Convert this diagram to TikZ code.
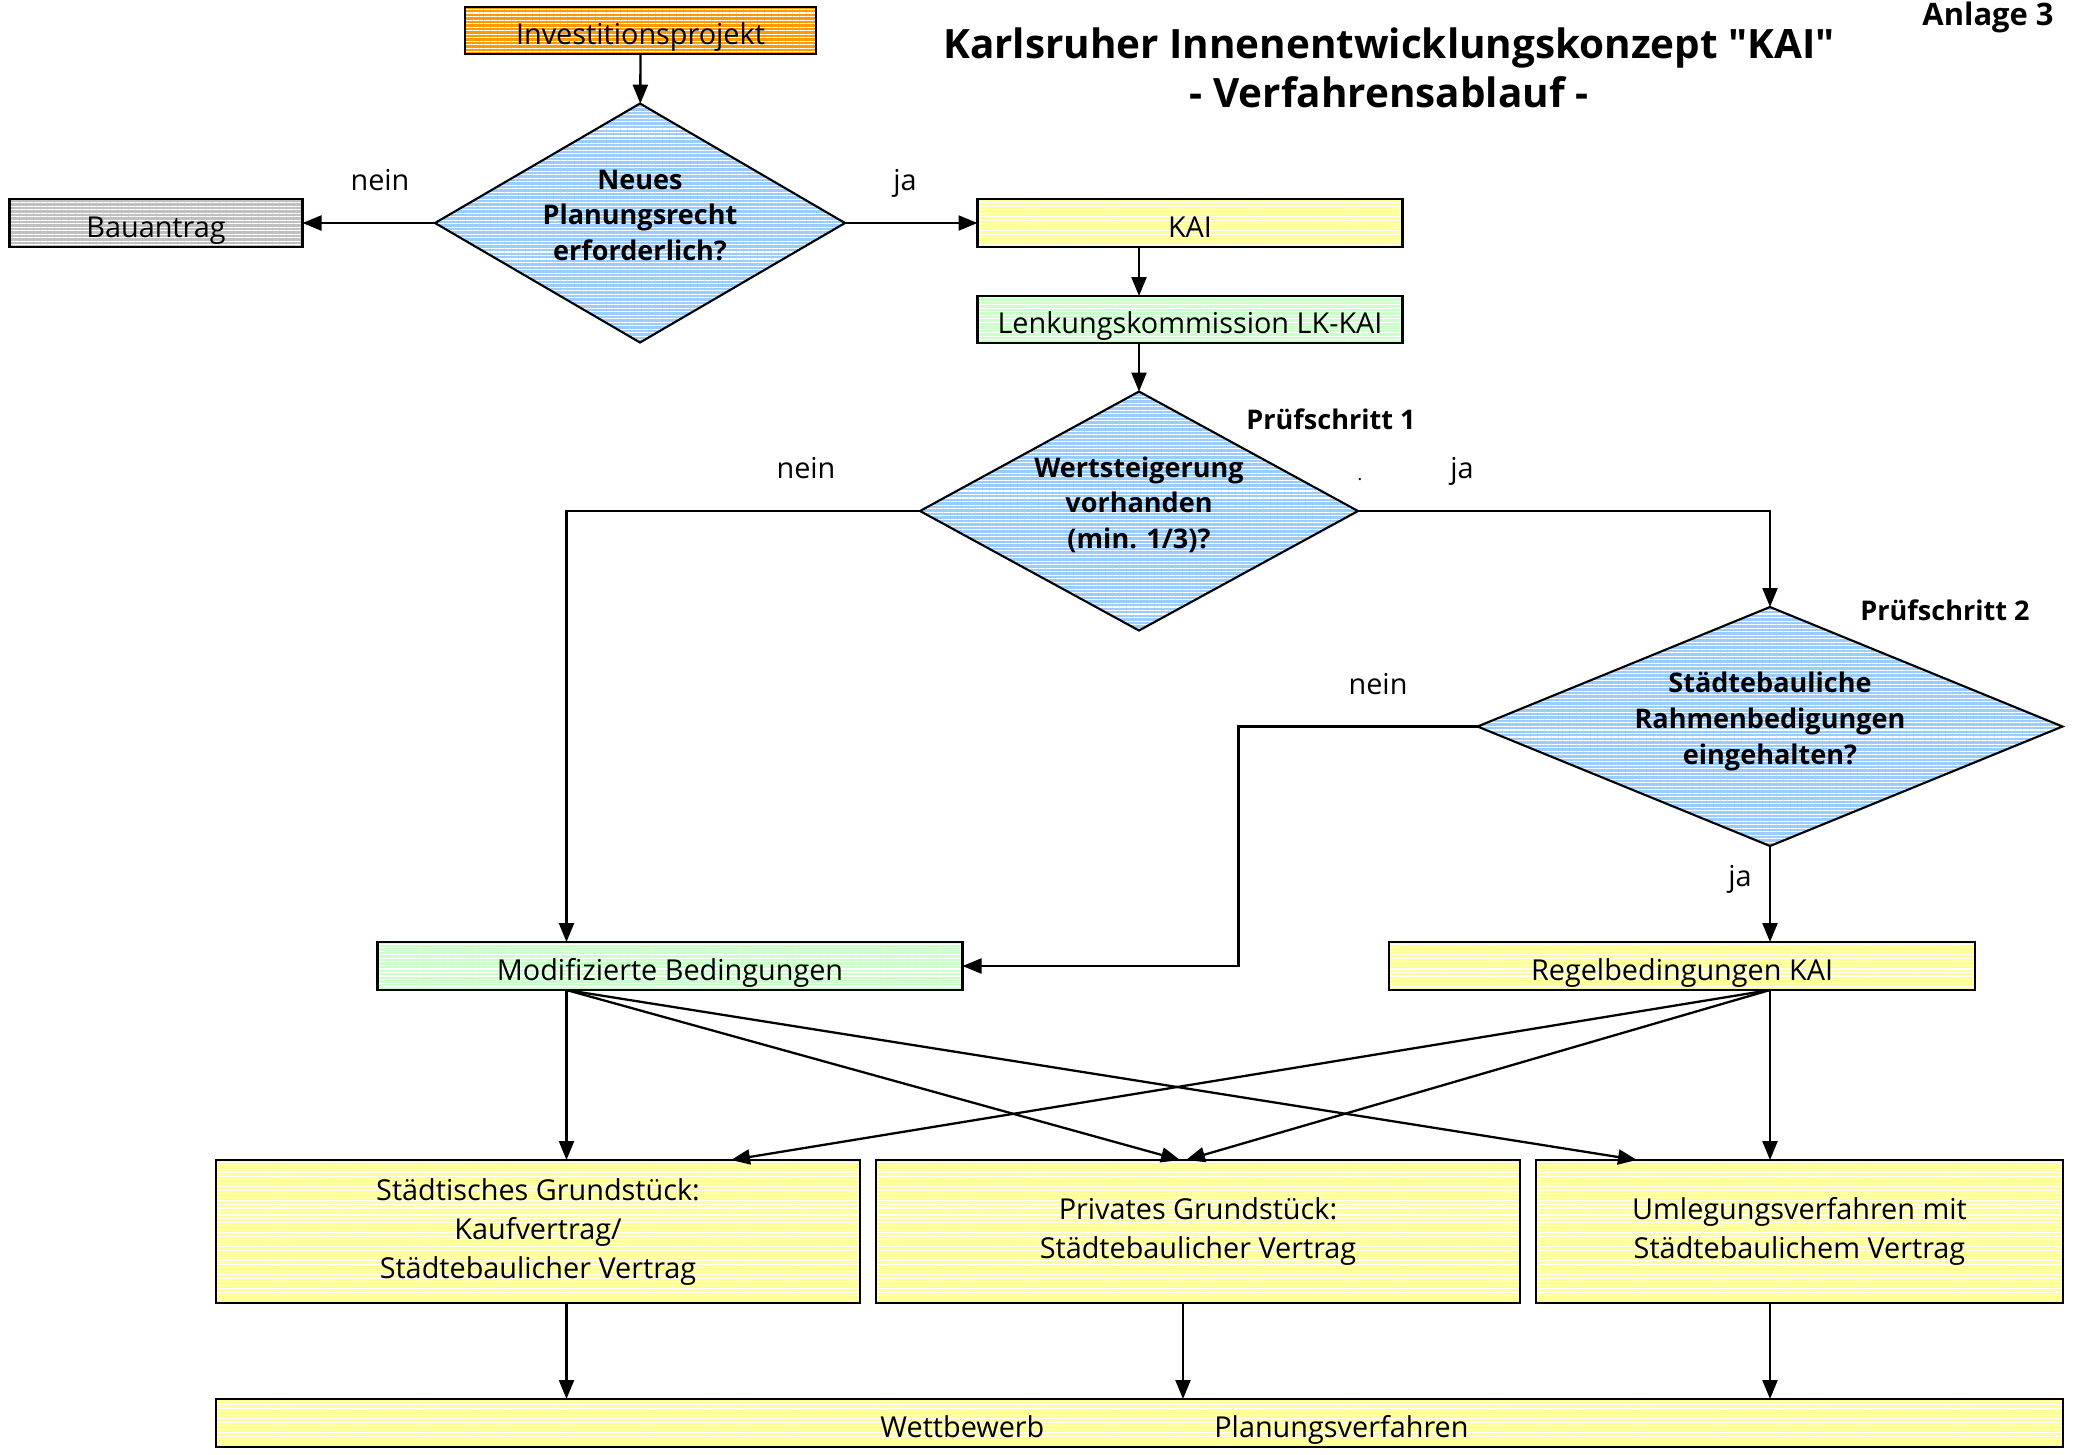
\documentclass[tikz,border=0pt]{standalone}
\usepackage{fontspec}
\setmainfont{Open Sans}
\usetikzlibrary{shapes.geometric,arrows.meta,patterns.meta}
\definecolor{kaiorange}{RGB}{255,153,0}
\definecolor{kaiblue}{RGB}{153,204,255}
\definecolor{kaigrey}{RGB}{192,192,192}
\definecolor{kaiyellow}{RGB}{255,255,153}
\definecolor{kaigreen}{RGB}{204,255,204}
\newcommand{\fragetext}[1]{\raisebox{0pt}[\height][\dimexpr\depth+3pt\relax]{\begin{tabular}{@{}c@{}}#1\end{tabular}}}

\begin{document}
\begin{tikzpicture}[
		>={Triangle[length=0.19cm,width=0.15cm]},
		striped/.style={draw, line width=0.6pt, preaction={fill=#1}, pattern={Lines[distance=1pt,line width=0.3pt]}, pattern color=white},
		box/.style={striped=#1, rectangle, inner sep=0pt, outer sep=0pt, font=\fontsize{8.2}{11.1}\selectfont, align=center},
		zeile/.style={text height=10pt, text depth=2pt},
		frage/.style={striped=kaiblue, diamond, aspect=1.7, inner sep=0pt, outer sep=0pt, font=\fontsize{7.7}{10.2}\selectfont\bfseries},
		pfeil/.style={->, line width=0.65pt},
		txt/.style={font=\fontsize{8.2}{11.1}\selectfont},
		fett/.style={font=\fontsize{7.7}{10.2}\selectfont\bfseries},
	]
		\useasboundingbox (0,0) rectangle (20.78,-14.54);
		
		\node[font=\fontsize{11.5}{14}\selectfont\bfseries, align=center] (titel) at (13.89,-0.68) {Karlsruher Innenentwicklungskonzept \textquotedbl KAI\textquotedbl\\- Verfahrensablauf -};
		\node[font=\fontsize{8.8}{11}\selectfont\bfseries] (anlage) at (19.88,-0.17) {Anlage 3};
		
		\node[box=kaiorange, zeile, minimum width=3.51cm, minimum height=0.47cm] (inv) at (6.405,-0.305) {Investitionsprojekt};
		\node[frage, minimum width=4.1cm, minimum height=2.39cm] (q1) at (6.40,-2.23) {\fragetext{Neues\\Planungsrecht\\erforderlich?}};
		\node[box=kaigrey, zeile, minimum width=2.93cm, minimum height=0.48cm] (bau) at (1.56,-2.23) {Bauantrag};
		\node[box=kaiyellow, zeile, minimum width=4.25cm, minimum height=0.48cm] (kai) at (11.90,-2.23) {KAI};
		\node[box=kaigreen, zeile, minimum width=4.25cm, minimum height=0.47cm] (lk) at (11.90,-3.195) {Lenkungskommission LK-KAI};
		\node[frage, aspect=1.83, minimum width=4.38cm, minimum height=2.39cm] (q2) at (11.39,-5.11) {\fragetext{Wertsteigerung\\vorhanden\\(min. 1/3)?}};
		\node[frage, aspect=2.45, minimum width=5.85cm, minimum height=2.39cm] (q3) at (17.70,-7.265) {\fragetext{Städtebauliche\\Rahmenbedigungen\\eingehalten?}};
		\node[box=kaigreen, zeile, minimum width=5.85cm, minimum height=0.48cm] (mod) at (6.70,-9.66) {Modifizierte Bedingungen};
		\node[box=kaiyellow, zeile, minimum width=5.86cm, minimum height=0.48cm] (regel) at (16.82,-9.66) {Regelbedingungen KAI};
		\node[box=kaiyellow, minimum width=6.44cm, minimum height=1.43cm] (g1) at (5.38,-12.315) {Städtisches Grundstück:\\Kaufvertrag/\\Städtebaulicher Vertrag};
		\node[box=kaiyellow, minimum width=6.44cm, minimum height=1.43cm] (g2) at (11.98,-12.315) {Privates Grundstück:\\Städtebaulicher Vertrag};
		\node[box=kaiyellow, minimum width=5.27cm, minimum height=1.43cm] (g3) at (17.995,-12.315) {Umlegungsverfahren mit\\Städtebaulichem Vertrag};
		\node[box=kaiyellow, zeile, minimum width=18.47cm, minimum height=0.48cm] (wett) at (11.395,-14.23) {\hspace*{0.7cm}Wettbewerb\hspace{1.7cm}Planungsverfahren};
		
		\node[txt] (nein1) at (3.80,-1.80) {nein};
		\node[txt] (ja1) at (9.05,-1.83) {ja};
		\node[txt] (nein2) at (8.06,-4.68) {nein};
		\node[txt] (ja2) at (14.62,-4.71) {ja};
		\node[txt] (nein3) at (13.78,-6.84) {nein};
		\node[txt] (ja3) at (17.40,-8.79) {ja};
		\node[fett] (p1) at (13.31,-4.19) {Prüfschritt 1};
		\node[fett] (p2) at (19.45,-6.10) {Prüfschritt 2};
		\node[font=\fontsize{5}{6}\selectfont] (punkt) at (13.60,-4.80) {.};
		
		\coordinate (mout) at ([xshift=-1.035cm]mod.south);
		\coordinate (rout) at (q3 |- regel.south);
		
		\draw[pfeil] (inv) -- (q1);
		\draw[pfeil] (q1) -- (bau);
		\draw[pfeil] (q1) -- (kai);
		\draw[pfeil] (q2 |- kai.south) -- (q2 |- lk.north);
		\draw[pfeil] (q2 |- lk.south) -- (q2.north);
		\draw[pfeil] (q2.west) -| ([xshift=-1.035cm]mod.north);
		\draw[pfeil] (q2.east) -| (q3.north);
		\draw[pfeil] (q3.west) -- ++(-2.39,0) |- (mod.east);
		\draw[pfeil] (q3.south) -- (q3 |- regel.north);
		
		\draw[pfeil] (mout) -- (mout |- g1.north);
		\draw[pfeil] (mout) -- ([xshift=-0.18cm]g2.north);
		\draw[pfeil] (mout) -- ([xshift=-1.625cm]g3.north);
		\draw[pfeil] (rout) -- ([xshift=1.93cm]g1.north);
		\draw[pfeil] (rout) -- ([xshift=-0.12cm]g2.north);
		\draw[pfeil] (rout) -- (rout |- g3.north);
		
		\draw[pfeil] (mout |- g1.south) -- (mout |- wett.north);
		\draw[pfeil] ([xshift=-0.15cm]g2.south) -- ([xshift=-0.15cm]g2.south |- wett.north);
		\draw[pfeil] (rout |- g3.south) -- (rout |- wett.north);
	\end{tikzpicture}
\end{document}
